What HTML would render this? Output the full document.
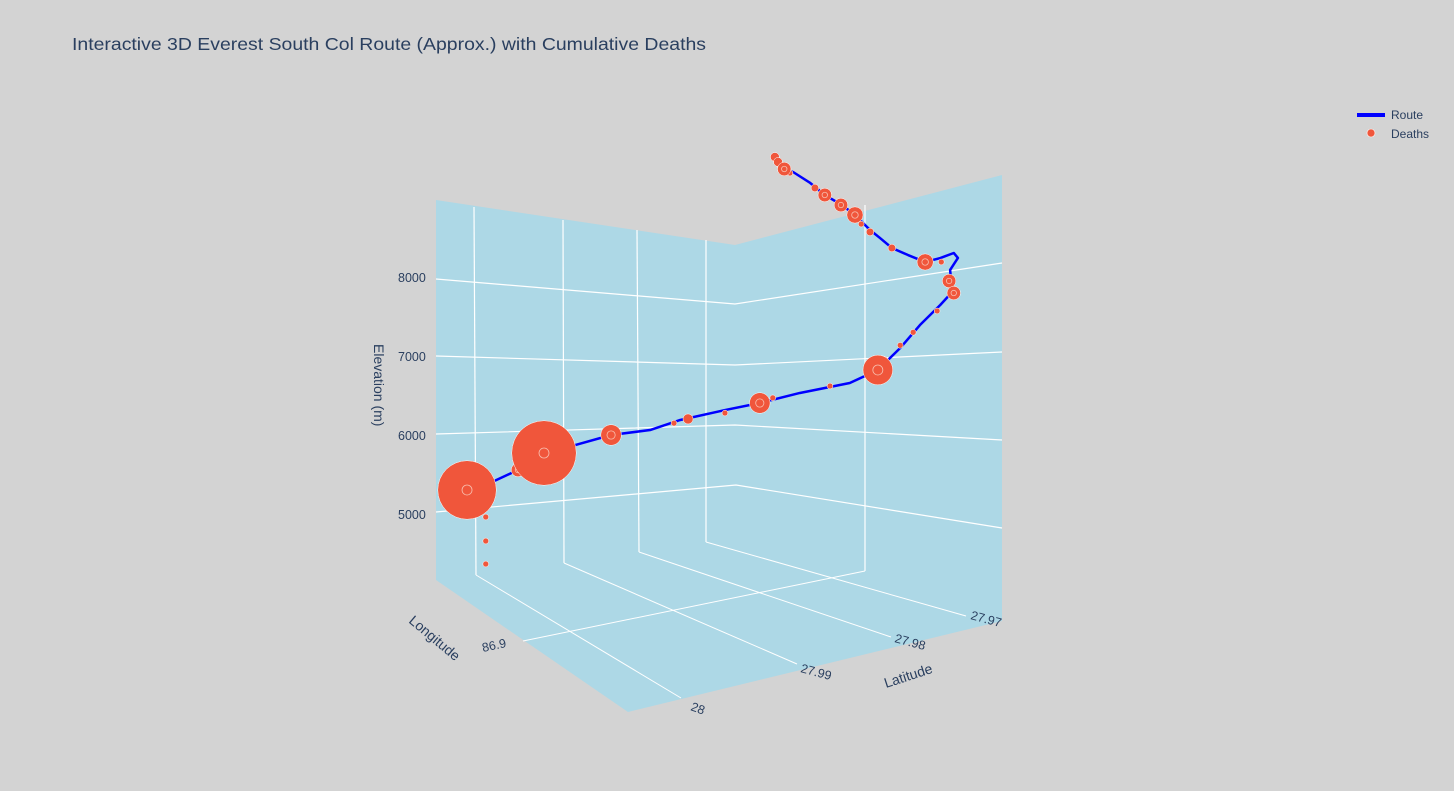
<!DOCTYPE html>
<html><head><meta charset="utf-8">
<style>
html,body{margin:0;padding:0;background:#d3d3d3;}
svg{display:block;font-family:"Liberation Sans",sans-serif;}
</style></head>
<body>
<svg id="chart" width="1454" height="791" viewBox="0 0 1454 791">
<rect x="0" y="0" width="1454" height="791" fill="#d3d3d3"/>
<text x="72" y="50" font-size="17.5" textLength="634" lengthAdjust="spacingAndGlyphs" fill="#2a3f5f">Interactive 3D Everest South Col Route (Approx.) with Cumulative Deaths</text>
<g>
<polygon points="436,200 735,245 1002,175 1002,621 628,712 436,580" fill="#add8e6"/>
<g stroke="#fff" fill="none">
<polyline points="436,279 735,304 1002,263" stroke-width="1.2"/>
<polyline points="436,356 735,365 1002,352" stroke-width="1.2"/>
<polyline points="436,434 735,425 1002,440" stroke-width="1.2"/>
<polyline points="436,512 736,485 1002,528" stroke-width="1.2"/>
<line x1="474" y1="207" x2="476" y2="575" stroke-width="1.2"/>
<line x1="563" y1="220" x2="564" y2="563" stroke-width="1.2"/>
<line x1="637" y1="230" x2="639" y2="552" stroke-width="1.2"/>
<line x1="706" y1="240" x2="706" y2="542" stroke-width="1.2"/>
<line x1="865" y1="205" x2="865" y2="571" stroke-width="1.2"/>
<line x1="476" y1="575" x2="681" y2="698"/>
<line x1="564" y1="563" x2="797" y2="664"/>
<line x1="639" y1="552" x2="891" y2="637"/>
<line x1="706" y1="542" x2="966" y2="616"/>
<line x1="523" y1="641" x2="865" y2="571"/>
</g>
<g font-size="12.5" fill="#2a3f5f">
<text x="398" y="282">8000</text>
<text x="398" y="361">7000</text>
<text x="398" y="440">6000</text>
<text x="398" y="519">5000</text>
<text transform="translate(374,344) rotate(90)" font-size="14">Elevation (m)</text>
</g>
<g font-size="12.5" fill="#2a3f5f">
<text transform="translate(483,652) rotate(-12)">86.9</text>
<text transform="translate(690,710) rotate(20)">28</text>
<text transform="translate(408,622) rotate(40)" font-size="14">Longitude</text>
</g>
<g font-size="12.5" fill="#2a3f5f">
<text transform="translate(800,672) rotate(15)">27.99</text>
<text transform="translate(894,642) rotate(15)">27.98</text>
<text transform="translate(970,619) rotate(15)">27.97</text>
<text transform="translate(886,688) rotate(-18)" font-size="14">Latitude</text>
</g>
<g id="plot"></g>
</g>
<g>
<g>
<line x1="1357" y1="115" x2="1385" y2="115" stroke="#0000ff" stroke-width="4"/>
<text x="1391" y="119" font-size="12" fill="#2a3f5f">Route</text>
</g>
<g>
<circle cx="1371" cy="133" r="4" fill="#f0563b" stroke="#fff" stroke-width="0.6"/>
<text x="1391" y="138" font-size="12" fill="#2a3f5f">Deaths</text>
</g>
</g>
</svg>
<script>
// route: distance units (0-100) and elevation (m)
const routeDist = [5.2,9.2,15,20,26,32.9,40.4,46.2,54.8,61.5,69.2,78.8,84.2,88.5,92.3,96.2,98.5,98.1,99.6,98.8,96.2,93.3,90,86.9,84.6,82.7,79.8,77.3,74,71.2,67.9,66.2,65,64.4];
const routeElev = [5304,5380,5557,5747,5873,6000,6063,6190,6316,6405,6532,6658,6823,7101,7392,7646,7810,8089,8241,8304,8240,8190,8278,8367,8494,8595,8785,8911,9038,9190,9329,9367,9443,9519];
// deaths: distance, elevation, cumulative count
const deathDist = [5.2,20,15,32.9,61.5,84.2,85.2,93.3,97.9,98.8,79.8,77.1,74,66.2,64.4,65,72.1,82.7,86.9,47.7,8.8,8.8,8.8,9.0,9.2,54.8,75,88.5,91,95.6,96.4,45,64,81,67.3];
const deathElev = [5304,5772,5557,6000,6405,6823,6924,8190,7950,7797,8785,8911,9038,9367,9519,9456,9127,8570,8367,6203,4962,4658,4367,5430,5342,6278,6620,7135,7300,7570,8190,6150,6470,8670,9316];
const deathCount = [90,110,4,10,10,22,3,6,4,4,6,4,4,4,1.5,1.5,1,1,1,2,0.5,0.5,0.5,1,1,0.5,0.5,0.5,0.5,0.5,0.5,0.5,0.5,0.5,0.5];
function xScale(d){return 440 + d*5.2;}
function yScale(e){return 514 - (e-5000)*0.079;}
function rScale(c){return 0.8 + Math.sqrt(c)*3;}
const NS='http://www.w3.org/2000/svg';
const plot=document.getElementById('plot');
const path=document.createElementNS(NS,'polyline');


path.setAttribute('points', routeDist.map((d,i)=>xScale(d)+','+yScale(routeElev[i])).join(' '));
path.setAttribute('fill','none');path.setAttribute('stroke','#0000ff');path.setAttribute('stroke-width','2.5');
path.setAttribute('stroke-linejoin','round');
plot.appendChild(path);
const order=deathCount.map((c,i)=>i).sort((a,b)=>deathCount[a]-deathCount[b]);
const g=document.createElementNS(NS,'g');


plot.appendChild(g);
order.forEach(i=>{
  const cx=xScale(deathDist[i]), cy=yScale(deathElev[i]), r=rScale(deathCount[i]);
  const c=document.createElementNS(NS,'circle');
  
  
  c.setAttribute('cx',cx);c.setAttribute('cy',cy);
  c.setAttribute('r',r);
  c.setAttribute('fill','#f0563b');c.setAttribute('stroke','#fff');c.setAttribute('stroke-width','0.5');
  g.appendChild(c);
  if(r>6){
    const ring=document.createElementNS(NS,'circle');
    
    
    ring.setAttribute('cx',cx);ring.setAttribute('cy',cy);
    ring.setAttribute('r',Math.min(5,r*0.4));
    ring.setAttribute('fill','none');ring.setAttribute('stroke','#f8c0b0');ring.setAttribute('stroke-width','0.8');
    g.appendChild(ring);
  }
});
</script>
</body></html>
